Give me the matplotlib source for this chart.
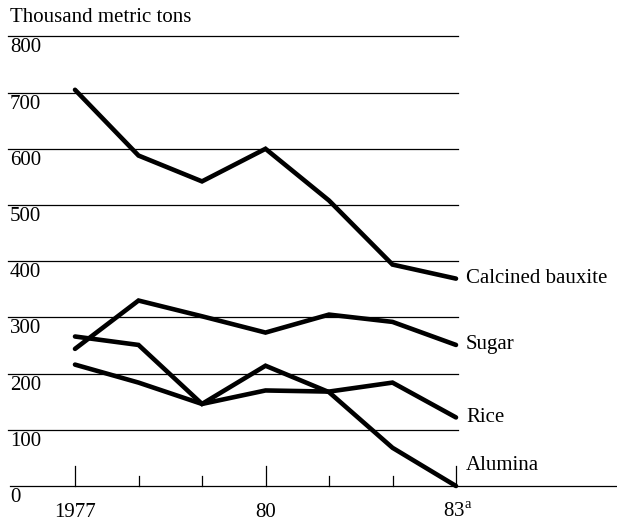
import matplotlib.pyplot as plt

# Values (thousand metric tons)
years = [1977, 1978, 1979, 1980, 1981, 1982, 1983]
bauxite = [705, 588, 542, 600, 508, 394, 369]
sugar = [244, 330, 302, 273, 305, 292, 251]
rice = [216, 184, 146, 170, 168, 184, 122]
alumina = [266, 251, 146, 214, 167, 68, 0]

series_names = ['Calcined bauxite', 'Sugar', 'Rice', 'Alumina']
y_ticks = [0, 100, 200, 300, 400, 500, 600, 700, 800]
x_major = [1977, 1980, 1983]
x_labels = ['1977', '80', r'83$^{\mathrm{a}}$']

plt.rcParams['font.family'] = ['Liberation Serif', 'DejaVu Serif']
plt.rcParams['mathtext.fontset'] = 'custom'
plt.rcParams['mathtext.rm'] = 'Liberation Serif'

fig = plt.figure(figsize=(6.17, 5.21), dpi=100)
ax = fig.add_axes([0, 0, 1, 1])

# pixel layout: 1977 at x=75, 63.5 px per year; 0 at y=486, 56.2 px per 100
px_year = 63.5
px_100 = 56.2
ax.set_xlim(1977 - 75 / px_year, 1977 + (617 - 75) / px_year)
ax.set_ylim(-(521 - 486) / px_100 * 100, 486 / px_100 * 100)
ax.axis('off')

x_left = 1977 - 67 / px_year
x_grid_end = 1983 + 2 / px_year
x_right = 1977 + (617 - 75) / px_year
fs = 15

# horizontal rules
for v in y_ticks[1:]:
    ax.plot([x_left, x_grid_end], [v, v], color='black', lw=0.9, zorder=1)
ax.plot([x_left + 2 / px_year, x_right], [0, 0], color='black', lw=0.9, zorder=1)

# ticks on baseline, pointing up
for yr in years:
    h = 20 if yr in x_major else 10
    ax.plot([yr, yr], [0, h / px_100 * 100], color='black', lw=0.9, zorder=1)

# y labels below each rule
for v in y_ticks:
    ax.text(x_left + 2 / px_year, v - 2 / px_100 * 100, str(v), ha='left', va='top', fontsize=fs)

ax.text(x_left + 2 / px_year, 800 + 9 / px_100 * 100, 'Thousand metric tons',
        ha='left', va='bottom', fontsize=fs)

for yr, lab in zip(x_major, x_labels):
    ax.text(yr + (2 / px_year if yr == 1983 else 0), -17 / px_100 * 100, lab,
            ha='center', va='top', fontsize=fs)

# series lines
data = [bauxite, sugar, rice, alumina]
for name, vals in zip(series_names, data):
    ax.plot(years, vals, color='black', lw=3.3, solid_capstyle='round',
            solid_joinstyle='miter', zorder=3)

# end labels
label_y = [bauxite[-1], sugar[-1], rice[-1], 37]
for name, ly in zip(series_names, label_y):
    ax.text(1983 + 10 / px_year, ly, name, ha='left', va='center', fontsize=fs)

plt.savefig('out.png', dpi=100)
